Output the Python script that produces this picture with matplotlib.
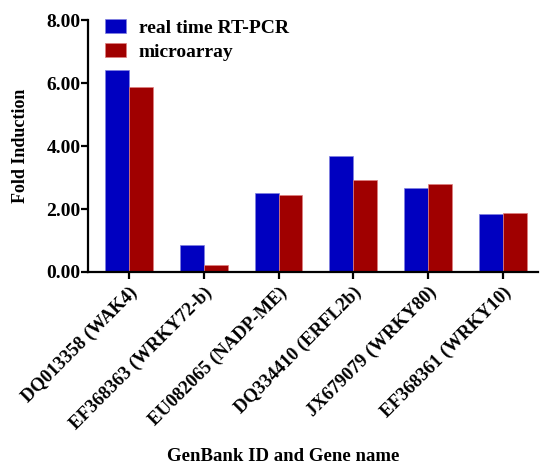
import matplotlib
matplotlib.use("Agg")
import matplotlib.pyplot as plt
import numpy as np

categories = ["DQ013358 (WAK4)", "EF368363 (WRKY72-b)", "EU082065 (NADP-ME)",
              "DQ334410 (ERFL2b)", "JX679079 (WRKY80)", "EF368361 (WRKY10)"]
rt_pcr = [6.41, 0.86, 2.50, 3.68, 2.67, 1.83]
microarray = [5.86, 0.22, 2.44, 2.91, 2.78, 1.86]
yticks = [0, 2, 4, 6, 8]
ytick_labels = ["0.00", "2.00", "4.00", "6.00", "8.00"]

plt.rcParams['font.family'] = ['Liberation Serif', 'DejaVu Serif']
plt.rcParams['font.weight'] = 'bold'

fig = plt.figure(figsize=(5.4, 4.67), dpi=100)
ax = fig.add_axes([0.163, 0.4176, 0.833, 0.5394])

x = np.arange(len(categories))
w = 0.32
ax.bar(x - w/2, rt_pcr, w, color="#0000C0", edgecolor="#8080E0", linewidth=0.5, label="real time RT-PCR")
ax.bar(x + w/2, microarray, w, color="#A00000", edgecolor="#E08080", linewidth=0.5, label="microarray")

ax.set_xlim(-0.55, 5.47)
ax.set_ylim(0, 8)
ax.set_yticks(yticks)
ax.set_yticklabels(ytick_labels, fontsize=14, fontweight='bold')
ax.set_xticks(x)
ax.set_xticklabels(categories, rotation=45, ha='right', rotation_mode='anchor', fontsize=13.5, fontweight='bold')

for s in ['top', 'right']:
    ax.spines[s].set_visible(False)
for s in ['left', 'bottom']:
    ax.spines[s].set_linewidth(1.6)
ax.tick_params(axis='both', direction='out', length=5, width=1.6)
ax.tick_params(axis='y', pad=0.5)

ax.set_ylabel("Fold Induction", fontsize=13, fontweight='bold', labelpad=12)
fig.text(0.524, 0.004, "GenBank ID and Gene name", ha='center', va='bottom', fontsize=13.5, fontweight='bold')

leg = ax.legend(loc='upper left', bbox_to_anchor=(0.02, 1.035), frameon=False, borderaxespad=0,
                prop={'size': 14, 'weight': 'bold'}, handlelength=1.1, handleheight=0.75,
                labelspacing=0.3, handletextpad=0.65)

fig.savefig("out.png", dpi=100)
